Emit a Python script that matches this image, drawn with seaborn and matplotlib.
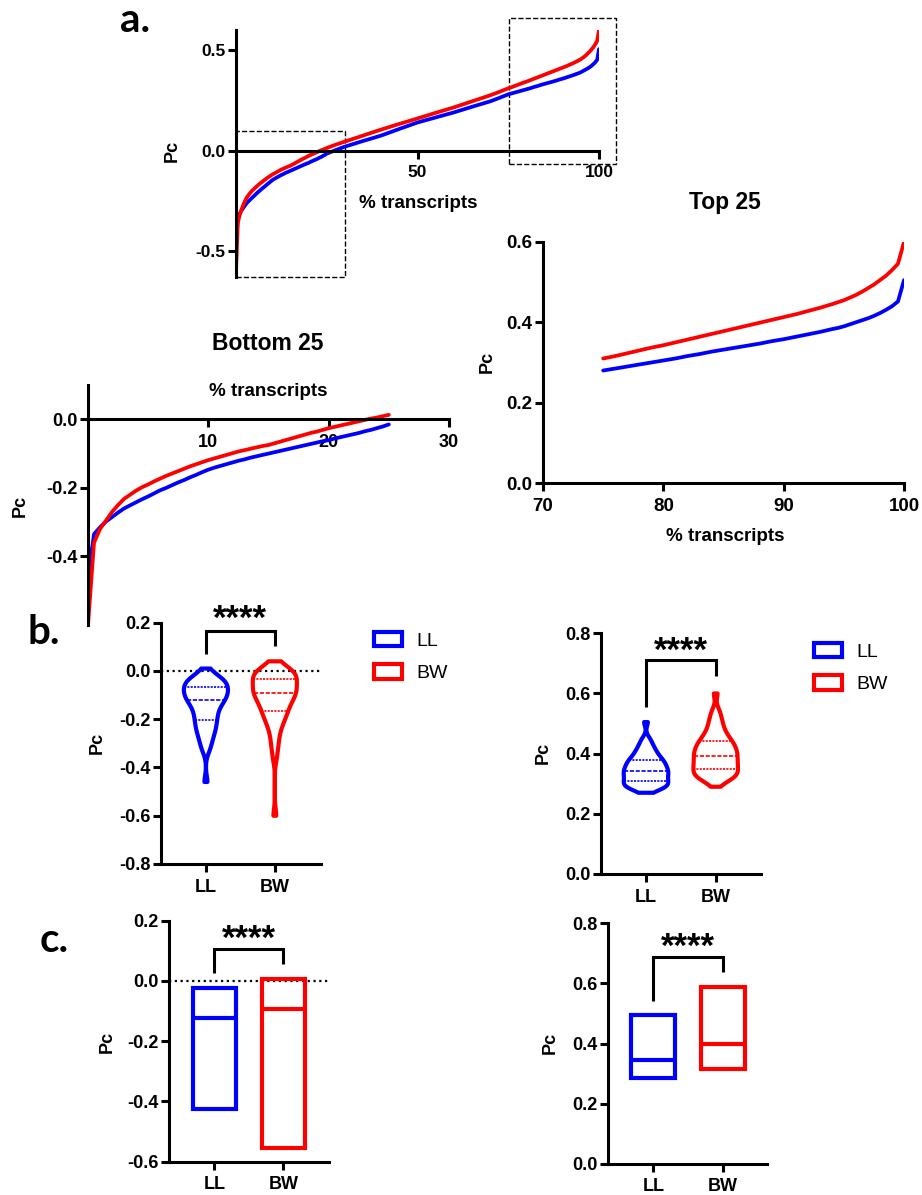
import numpy as np
import pandas as pd
import matplotlib
matplotlib.use("Agg")
import matplotlib.pyplot as plt
import seaborn as sns
from matplotlib.patches import Patch, Rectangle

# ---------------- data ----------------
groups = ["LL", "BW"]
colors = {"LL": "#0000ff", "BW": "#ff0000"}

# % transcripts grid of the bottom 25 % and top 25 % (0.5 % steps)
pct_bottom = np.arange(0, 25.01, 0.5)
pct_top = np.arange(75, 100.01, 0.5)
pct_mid = [27.5, 30, 35, 40, 45, 50, 55, 60, 65, 70, 72.5]

# sorted Pc values read at those % transcripts
ll_bottom = [-0.46, -0.335, -0.315, -0.298, -0.285, -0.272, -0.26, -0.251, -0.242, -0.233,
             -0.225, -0.216, -0.207, -0.2, -0.192, -0.184, -0.177, -0.169, -0.162, -0.154,
             -0.147, -0.141, -0.136, -0.131, -0.126, -0.121, -0.117, -0.112, -0.108, -0.104,
             -0.10, -0.096, -0.092, -0.088, -0.084, -0.080, -0.076, -0.072, -0.068, -0.064,
             -0.061, -0.056, -0.052, -0.048, -0.044, -0.040, -0.035, -0.031, -0.026, -0.021,
             -0.015]
bw_bottom = [-0.6, -0.36, -0.32, -0.295, -0.27, -0.25, -0.232, -0.22, -0.208, -0.198,
             -0.19, -0.181, -0.173, -0.165, -0.158, -0.151, -0.144, -0.137, -0.131, -0.125,
             -0.119, -0.114, -0.109, -0.104, -0.099, -0.094, -0.09, -0.086, -0.082, -0.078,
             -0.075, -0.07, -0.065, -0.06, -0.055, -0.05, -0.045, -0.04, -0.036, -0.031,
             -0.026, -0.022, -0.018, -0.014, -0.01, -0.006, -0.002, 0.002, 0.005, 0.009,
             0.013]
ll_mid = [0.003, 0.02, 0.048, 0.075, 0.108, 0.14, 0.165, 0.19, 0.218, 0.245, 0.262]
bw_mid = [0.03, 0.045, 0.075, 0.105, 0.133, 0.16, 0.188, 0.215, 0.245, 0.275, 0.292]
ll_top = [0.28, 0.2825, 0.285, 0.2875, 0.29, 0.2925, 0.295, 0.2975, 0.30, 0.3025, 0.305,
          0.3075, 0.31, 0.313, 0.316, 0.3185, 0.321, 0.324, 0.327, 0.3295, 0.332, 0.3345,
          0.337, 0.3395, 0.342, 0.3445, 0.347, 0.35, 0.353, 0.3555, 0.358, 0.361, 0.364,
          0.367, 0.37, 0.373, 0.376, 0.3795, 0.383, 0.386, 0.39, 0.395, 0.40, 0.405, 0.41,
          0.416, 0.423, 0.431, 0.44, 0.452, 0.505]
bw_top = [0.31, 0.313, 0.316, 0.3195, 0.323, 0.3265, 0.33, 0.3335, 0.337, 0.340, 0.343,
          0.3465, 0.35, 0.3535, 0.357, 0.3605, 0.364, 0.3675, 0.371, 0.3745, 0.378, 0.3815,
          0.385, 0.3885, 0.392, 0.3955, 0.399, 0.4025, 0.406, 0.4095, 0.413, 0.4165, 0.42,
          0.424, 0.428, 0.432, 0.436, 0.4405, 0.445, 0.45, 0.455, 0.4615, 0.468, 0.476,
          0.485, 0.494, 0.505, 0.516, 0.53, 0.546, 0.60]

# extreme values shown by the violin tips (b.)
ll_bottom_tip = [0.01]
bw_bottom_tip = [0.04]
ll_top_tip = [0.27]
bw_top_tip = [0.29]

# floating bars: min, median, max (c.)
bar_bottom_min = [-0.425, -0.555]
bar_bottom_med = [-0.122, -0.093]
bar_bottom_max = [-0.025, 0.007]
bar_top_min = [0.285, 0.315]
bar_top_med = [0.345, 0.397]
bar_top_max = [0.495, 0.588]

# ---------------- style ----------------
sns.set_theme(style="ticks")
plt.rcParams["font.family"] = ["Liberation Sans", "DejaVu Sans"]
plt.rcParams["font.weight"] = "bold"
plt.rcParams["axes.labelweight"] = "bold"
plt.rcParams["axes.edgecolor"] = "black"
plt.rcParams["axes.labelcolor"] = "black"
plt.rcParams["text.color"] = "black"
plt.rcParams["xtick.color"] = "black"
plt.rcParams["ytick.color"] = "black"
plt.rcParams["axes.unicode_minus"] = False

W, H = 922, 1195
fig = plt.figure(figsize=(W / 100, H / 100), dpi=100)
fig.patch.set_facecolor("white")

SP = 2.2  # spine width
LABEL_FONT = ["Lato", "DejaVu Sans"]


def add_ax(left, top, right, bottom):
    return fig.add_axes([left / W, 1 - bottom / H, (right - left) / W, (bottom - top) / H])


def style(ax, size=13):
    for s in ["top", "right"]:
        ax.spines[s].set_visible(False)
    for s in ["left", "bottom"]:
        ax.spines[s].set_linewidth(SP)
        ax.spines[s].set_color("black")
    ax.tick_params(axis="y", width=SP, length=6, labelsize=size, pad=1.5,
                   colors="black", labelcolor="black")
    ax.tick_params(axis="x", width=SP, length=6, labelsize=size, pad=4.5,
                   colors="black", labelcolor="black")
    ax.set_xlabel("")
    ax.set_ylabel("")
    ax.set_facecolor("none")


def ftext(x, y, s, **kw):
    kw.setdefault("ha", "center")
    kw.setdefault("va", "center")
    kw.setdefault("color", "black")
    fig.text(x / W, 1 - y / H, s, **kw)


def make_df(ll_x, ll_y, bw_x, bw_y):
    return pd.concat([
        pd.DataFrame({"pct": ll_x, "Pc": ll_y, "group": "LL"}),
        pd.DataFrame({"pct": bw_x, "Pc": bw_y, "group": "BW"}),
    ])


full_x = list(pct_bottom) + list(pct_mid) + list(pct_top)
df_full = make_df(full_x, ll_bottom + ll_mid + ll_top, full_x, bw_bottom + bw_mid + bw_top)
df_bottom = make_df(pct_bottom, ll_bottom, pct_bottom, bw_bottom)
df_top = make_df(pct_top, ll_top, pct_top, bw_top)


def curves(ax, df):
    sns.lineplot(data=df, x="pct", y="Pc", hue="group", hue_order=groups,
                 palette=colors, sort=False, estimator=None, lw=2.7, legend=False, ax=ax)


# ---------------- panel a: full ----------------
ax = add_ax(236, 30, 599, 277.3)
curves(ax, df_full)
style(ax, 12.5)
ax.set_xlim(0, 100)
ax.set_ylim(-0.63, 0.6)
ax.spines["bottom"].set_position(("data", 0))
ax.set_xticks([50, 100])
ax.set_yticks([-0.5, 0.0, 0.5])
ax.add_patch(Rectangle((0, -0.63), 30, 0.73, fill=False, ls="--", lw=1, ec="black", clip_on=False))
ax.add_patch(Rectangle((75.2, -0.066), 29.5, 0.726, fill=False, ls="--", lw=1, ec="black", clip_on=False))
ftext(172, 151, "Pc", rotation=90, fontsize=13, fontweight="bold")
ftext(418, 204, "% transcripts", fontsize=13.5, fontweight="bold")
ftext(135, 21, "a.", fontsize=29, fontweight="bold", family=LABEL_FONT)

# ---------------- Bottom 25 ----------------
ax = add_ax(88, 385, 449, 625)
curves(ax, df_bottom)
style(ax, 13)
ax.set_xlim(0, 30)
ax.set_ylim(-0.6, 0.1)
ax.spines["bottom"].set_position(("data", 0))
ax.set_xticks([10, 20, 30])
ax.set_yticks([-0.4, -0.2, 0.0])
ftext(268, 344, "Bottom 25", fontsize=16.5, fontweight="bold")
ftext(268, 392, "% transcripts", fontsize=13.5, fontweight="bold")
ftext(20, 506, "Pc", rotation=90, fontsize=13, fontweight="bold")

# ---------------- Top 25 ----------------
ax = add_ax(543, 242, 904, 483)
curves(ax, df_top)
style(ax, 13.5)
ax.set_xlim(70, 100)
ax.set_ylim(0, 0.6)
ax.set_xticks([70, 80, 90, 100])
ax.set_yticks([0.0, 0.2, 0.4, 0.6])
ftext(725, 202, "Top 25", fontsize=16.5, fontweight="bold")
ftext(725, 537, "% transcripts", fontsize=13.5, fontweight="bold")
ftext(487, 362, "Pc", rotation=90, fontsize=13, fontweight="bold")


# ---------------- helpers for b/c ----------------
def bracket(ax, y_ll, y_top, y_bw, y_star):
    ax.plot([0, 0, 1, 1], [y_ll, y_top, y_top, y_bw], color="black", lw=SP,
            clip_on=False, solid_capstyle="butt", solid_joinstyle="miter")
    ax.text(0.5, y_star, "****", ha="center", va="center", fontsize=25,
            fontweight="bold", color="black", clip_on=False)


def legend_at(x, y):
    handles = [Patch(facecolor="white", edgecolor=colors[g], linewidth=3, label=g) for g in groups]
    leg = fig.legend(handles=handles, loc="upper left", bbox_to_anchor=(x / W, 1 - y / H),
                     frameon=False, prop={"size": 14, "weight": "normal"},
                     handlelength=1.45, handleheight=0.75, handletextpad=0.75,
                     labelspacing=0.75, borderaxespad=0, borderpad=0)
    for t in leg.get_texts():
        t.set_color("black")


def violins(ax, ll_vals, bw_vals):
    df = pd.concat([
        pd.DataFrame({"group": "LL", "Pc": ll_vals}),
        pd.DataFrame({"group": "BW", "Pc": bw_vals}),
    ])
    sns.violinplot(data=df, x="group", y="Pc", hue="group", order=groups, hue_order=groups,
                   palette=colors, fill=False, inner="quart", cut=0, density_norm="width",
                   width=0.64, linewidth=3, legend=False, bw_adjust=0.55,
                   inner_kws={"linewidth": 1.2}, ax=ax)


def floating(ax, mins, meds, maxs):
    mins, meds, maxs = np.array(mins), np.array(meds), np.array(maxs)
    ax.bar(x=[0, 1], height=maxs - mins, bottom=mins, width=0.63, fill=False,
           edgecolor=[colors[g] for g in groups], linewidth=3)
    for i, g in enumerate(groups):
        ax.plot([i - 0.315, i + 0.315], [meds[i], meds[i]], color=colors[g], lw=3)


# ---------------- panel b left ----------------
ax = add_ax(161, 622.7, 321, 864)
violins(ax, ll_bottom + ll_bottom_tip, bw_bottom + bw_bottom_tip)
style(ax, 13)
ax.axhline(0, ls=(0, (1, 1.6)), color="black", lw=1.6, zorder=0)
ax.set_xlim(-0.652, 1.67)
ax.set_ylim(-0.8, 0.2)
ax.set_yticks([-0.8, -0.6, -0.4, -0.2, 0.0, 0.2])
ax.set_xticks([0, 1], groups)
bracket(ax, 0.069, 0.164, 0.102, 0.215)
ftext(97, 743, "Pc", rotation=90, fontsize=13, fontweight="bold")
legend_at(374, 632)
ftext(44, 632, "b.", fontsize=29, fontweight="bold", family=LABEL_FONT)

# ---------------- panel b right ----------------
ax = add_ax(600.7, 633.3, 761, 874)
violins(ax, ll_top_tip + ll_top, bw_top_tip + bw_top)
style(ax, 13)
ax.set_xlim(-0.65, 1.65)
ax.set_ylim(0, 0.8)
ax.set_yticks([0.0, 0.2, 0.4, 0.6, 0.8])
ax.set_xticks([0, 1], groups)
bracket(ax, 0.556, 0.711, 0.657, 0.741)
ftext(543, 753, "Pc", rotation=90, fontsize=13, fontweight="bold")
legend_at(814, 643)

# ---------------- panel c left ----------------
ax = add_ax(169.3, 920.7, 329.3, 1161.7)
floating(ax, bar_bottom_min, bar_bottom_med, bar_bottom_max)
style(ax, 13)
ax.axhline(0, ls=(0, (1, 1.6)), color="black", lw=1.6, zorder=0)
ax.set_xlim(-0.652, 1.667)
ax.set_ylim(-0.6, 0.2)
ax.set_yticks([-0.6, -0.4, -0.2, 0.0, 0.2])
ax.set_xticks([0, 1], groups)
bracket(ax, 0.025, 0.105, 0.055, 0.139)
ftext(107, 1042, "Pc", rotation=90, fontsize=13, fontweight="bold")
ftext(54, 940, "c.", fontsize=29, fontweight="bold", family=LABEL_FONT)

# ---------------- panel c right ----------------
ax = add_ax(607.7, 923.3, 767.3, 1163.7)
floating(ax, bar_top_min, bar_top_med, bar_top_max)
style(ax, 13)
ax.set_xlim(-0.655, 1.64)
ax.set_ylim(0, 0.8)
ax.set_yticks([0.0, 0.2, 0.4, 0.6, 0.8])
ax.set_xticks([0, 1], groups)
bracket(ax, 0.543, 0.687, 0.637, 0.719)
ftext(550, 1043, "Pc", rotation=90, fontsize=13, fontweight="bold")

fig.savefig("out.png", dpi=100, facecolor="white")
